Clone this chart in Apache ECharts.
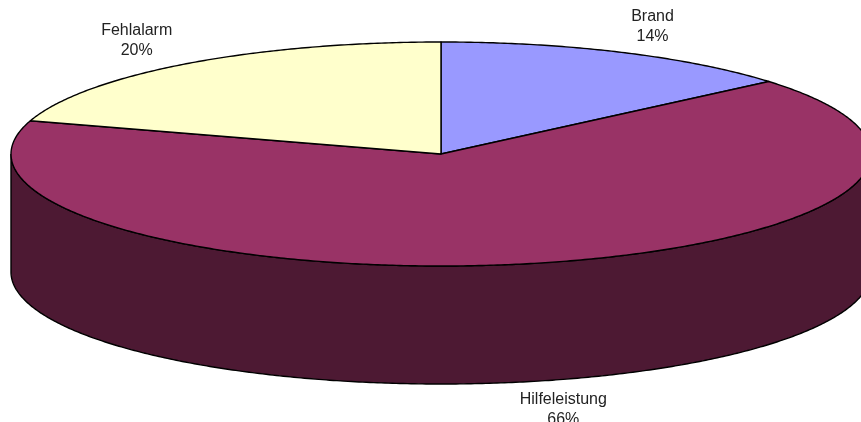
<!DOCTYPE html>
<html>
<head>
<meta charset="utf-8">
<style>html,body{margin:0;padding:0;background:#fff;overflow:hidden}#c{width:861px;height:422px}</style>
<script src="https://cdn.jsdelivr.net/npm/echarts@6/dist/echarts.min.js"></script>
</head>
<body>
<div id="c"></div>
<script>
const categories = ['Brand', 'Hilfeleistung', 'Fehlalarm'];
const values = [13.8, 66, 20.2];
const colors = ['#9999FF', '#993366', '#FFFFCC'];
const sideColors = ['#4D4D80', '#4D1933', '#808066'];
const labelAnchors = [[652.5, 27], [563.3, 409.5], [136.7, 40.5]];

const disc = { cx: 441, cy: 154, rx: 430, ry: 112, depth: 118 };
const total = values.reduce((a, b) => a + b, 0);
const pt = (deg, dy) => {
  const r = deg * Math.PI / 180;
  return [disc.cx + disc.rx * Math.sin(r), disc.cy - disc.ry * Math.cos(r) + (dy || 0)];
};
const arc = (a, b, dy) => {
  const out = [], n = Math.max(2, Math.ceil(Math.abs(b - a) * 2));
  for (let i = 0; i <= n; i++) out.push(pt(a + (b - a) * i / n, dy));
  return out;
};

const chart = echarts.init(document.getElementById('c'), null, { renderer: 'canvas' });
chart.setOption({
  animation: false,
  backgroundColor: '#fff',
  series: [{
    type: 'custom',
    coordinateSystem: 'none',
    silent: true,
    data: categories.map((n, i) => [i, values[i]]),
    renderItem(params, api) {
      const i = api.value(0);
      let start = 0;
      for (let k = 0; k < i; k++) start += values[k];
      const a0 = start / total * 360;
      const a1 = (start + api.value(1)) / total * 360;
      const children = [];
      const stroke = { stroke: '#000', lineWidth: 1.4 };
      const f0 = Math.max(a0, 90), f1 = Math.min(a1, 270);
      if (f1 > f0) {
        const upper = arc(f0, f1, 0);
        const lower = arc(f1, f0, disc.depth);
        children.push({
          type: 'polygon',
          shape: { points: upper.concat(lower) },
          style: { fill: sideColors[i], ...stroke }
        });
      }
      children.push({
        type: 'polygon',
        shape: { points: [[disc.cx, disc.cy]].concat(arc(a0, a1, 0)) },
        style: { fill: colors[i], ...stroke, lineJoin: 'round' }
      });
      children.push({
        type: 'text',
        style: {
          x: labelAnchors[i][0],
          y: labelAnchors[i][1],
          text: categories[i] + '\n' + Math.round(api.value(1)) + '%',
          fill: '#222',
          font: '16px "Liberation Sans", Arial, sans-serif',
          lineHeight: 20,
          align: 'center',
          verticalAlign: 'middle'
        }
      });
      return { type: 'group', children };
    }
  }]
});
</script>
</body>
</html>
